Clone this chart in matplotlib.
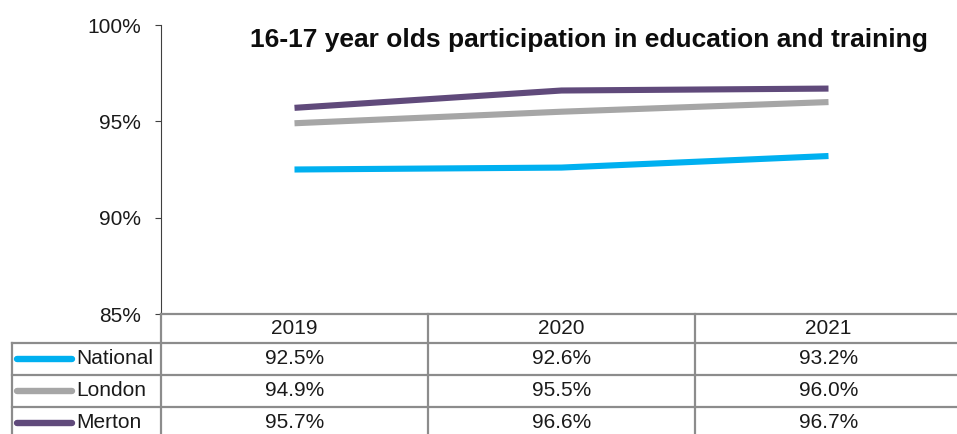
import matplotlib.pyplot as plt
from matplotlib.ticker import FuncFormatter

plt.rcParams['font.family'] = ['Liberation Sans', 'DejaVu Sans']

years = ['2019', '2020', '2021']
series_names = ['National', 'London', 'Merton']
national = [92.5, 92.6, 93.2]
london = [94.9, 95.5, 96.0]
merton = [95.7, 96.6, 96.7]
series_values = [national, london, merton]
series_colors = ['#00B0F0', '#A6A6A6', '#604A7B']

W, H = 957, 434
TXT = 15
fig = plt.figure(figsize=(W / 100, H / 100), dpi=100)

# chart area, in pixels: x 161..962, y 25..314 (table underneath)
ax = fig.add_axes([161 / W, (H - 314) / H, 801 / W, 289 / H])
x = list(range(len(years)))
for vals, col in zip(series_values, series_colors):
    ax.plot(x, vals, color=col, lw=4.4, solid_capstyle='butt', zorder=3)

ax.set_xlim(-0.5, len(years) - 0.5)
ax.set_ylim(85, 100)
ax.set_yticks([85, 90, 95, 100])
ax.yaxis.set_major_formatter(FuncFormatter(lambda v, p: f'{v:.0f}%'))
ax.tick_params(axis='y', length=4.5, width=0.8, color='#404040', pad=10,
               labelsize=TXT, labelcolor='#1a1a1a')
ax.set_xticks([])
for s in ['top', 'right', 'bottom']:
    ax.spines[s].set_visible(False)
ax.spines['left'].set_color('#404040')
ax.spines['left'].set_linewidth(0.8)

fig.text(589 / W, 1 - 40 / H, '16-17 year olds participation in education and training',
         ha='center', va='center', fontsize=19, fontweight='bold', color='#0d0d0d')

# data table below the chart, sharing the category x scale
axt = fig.add_axes([161 / W, 0, 801 / W, 120 / H], sharex=ax)
axt.set_ylim(120, 0)
axt.axis('off')
grid_kw = dict(color='#8c8c8c', lw=1.6, clip_on=False, solid_capstyle='projecting')
label_left = -0.5 - 149 / 267  # left edge of the row-label column
row_lines = [29, 61, 93, 125]

axt.plot([-0.5, 2.5], [0, 0], **grid_kw)
for yl in row_lines[:-1]:
    axt.plot([label_left, 2.5], [yl, yl], **grid_kw)
axt.plot([label_left, label_left], [29, 125], **grid_kw)
for xv in [-0.5, 0.5, 1.5, 2.5]:
    axt.plot([xv, xv], [0, 125], **grid_kw)

for j, yr in enumerate(years):
    axt.text(j, 15, yr, ha='center', va='center', fontsize=TXT, color='#1a1a1a')

key_x0 = label_left + 5 / 267
key_x1 = label_left + 60 / 267
for i, (name, vals, col) in enumerate(zip(series_names, series_values, series_colors)):
    yc = (row_lines[i] + row_lines[i + 1]) / 2
    axt.plot([key_x0, key_x1], [yc, yc], color=col, lw=4.6,
             solid_capstyle='round', clip_on=False)
    axt.text(label_left + 64 / 267, yc, name, ha='left', va='center',
             fontsize=TXT, color='#1a1a1a')
    for j, v in enumerate(vals):
        axt.text(j, yc, f'{v:.1f}%', ha='center', va='center', fontsize=TXT,
                 color='#1a1a1a')

fig.savefig('out.png', dpi=100)
